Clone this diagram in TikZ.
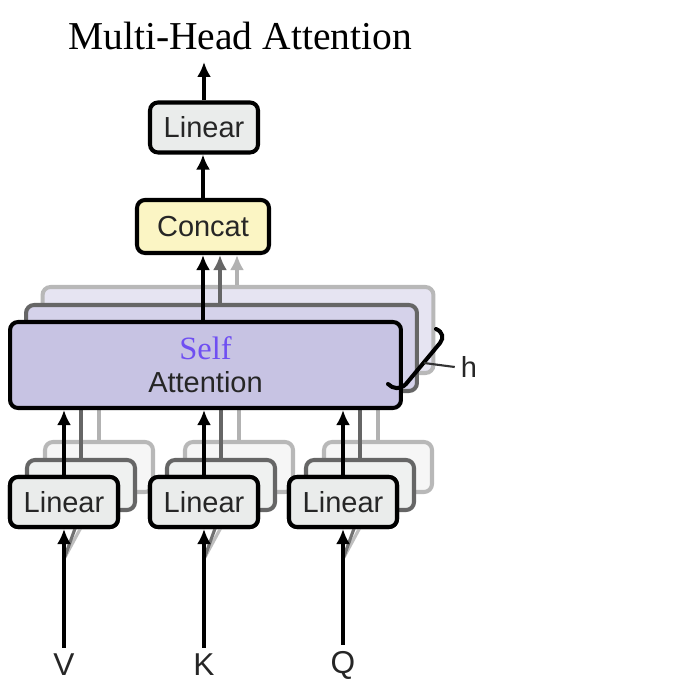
\documentclass[tikz,border=0pt]{standalone}
\usepackage{fontspec}
\setmainfont{Liberation Serif}
\setsansfont{Liberation Sans}
\usetikzlibrary{arrows.meta}
\definecolor{linfill}{HTML}{EAECEB}
\definecolor{catfill}{HTML}{FBF5C4}
\definecolor{attfill}{HTML}{C7C3E3}
\definecolor{selfblue}{HTML}{6F4FF2}
\begin{document}
\begin{tikzpicture}[x=0.02cm,y=-0.02cm,
 box/.style={draw,rounded corners=0.16cm,line width=2.3pt,inner sep=0pt,
   font=\sffamily\fontsize{16.5}{18.8}\selectfont,text=black!85},
 linbox/.style={box,fill=linfill,minimum width=2.16cm,minimum height=1.0cm},
 catbox/.style={box,fill=catfill,minimum width=2.64cm,minimum height=1.06cm},
 attbox/.style={box,fill=attfill,minimum width=7.82cm,minimum height=1.72cm,align=center},
 midlayer/.style={draw=black!60,fill=#1!75!white},
 backlayer/.style={draw=black!28,fill=#1!45!white},
 arr/.style={line width=2.3pt,-{Latex[length=0.3cm,width=0.28cm]}},
 ghostmid/.style={arr,black!60},
 ghostback/.style={arr,black!30},
 lbl/.style={font=\sffamily\fontsize{18}{20}\selectfont,text=black!85}]
 \useasboundingbox (0,0) rectangle (699,695);
 \node[attbox,backlayer=attfill] (att3) at (238,330) {};
 \node[attbox,midlayer=attfill] (att2) at (221.5,348) {};
 \node[linbox,backlayer=linfill] (linV3) at (99,467) {};
 \node[linbox,backlayer=linfill] (linK3) at (239,467) {};
 \node[linbox,backlayer=linfill] (linQ3) at (378,467) {};
 \node[linbox,midlayer=linfill] (linV2) at (81,485) {};
 \node[linbox,midlayer=linfill] (linK2) at (221,485) {};
 \node[linbox,midlayer=linfill] (linQ2) at (360,485) {};
 \draw[ghostback] (linV3.north) -- (linV3.north |- att3.south);
 \draw[ghostback] (linK3.north) -- (linK3.north |- att3.south);
 \draw[ghostback] (linQ3.north) -- (linQ3.north |- att3.south);
 \draw[ghostmid] (linV2.north) -- (linV2.north |- att2.south);
 \draw[ghostmid] (linK2.north) -- (linK2.north |- att2.south);
 \draw[ghostmid] (linQ2.north) -- (linQ2.north |- att2.south);
 \node[lbl] (labV) at (64,665) {V};
 \node[lbl] (labK) at (204,665) {K};
 \node[lbl] (labQ) at (343,665) {Q};
 \node[linbox] (linV) at (64,502) {Linear};
 \node[linbox] (linK) at (204,502) {Linear};
 \node[linbox] (linQ) at (343,502) {Linear};
 \draw[line width=1.8pt,black!25] ([yshift=-0.6cm]linV.south) -- (linV3.south)
   ([yshift=-0.6cm]linK.south) -- (linK3.south) ([yshift=-0.6cm]linQ.south) -- (linQ3.south);
 \draw[line width=1.8pt,black!55] ([yshift=-0.6cm]linV.south) -- (linV2.south)
   ([yshift=-0.6cm]linK.south) -- (linK2.south) ([yshift=-0.6cm]linQ.south) -- (linQ2.south);
 \node[linbox] (linV) at (64,502) {Linear};
 \node[linbox] (linK) at (204,502) {Linear};
 \node[linbox] (linQ) at (343,502) {Linear};
 \node[attbox] (att) at (205.5,365)
   {{\rmfamily\fontsize{18.5}{18.8}\selectfont\color{selfblue}Self}\\Attention};
 \node[catbox] (cat) at (203,226.5) {Concat};
 \node[linbox] (top) at (204,127.5) {Linear};
 \node[font=\fontsize{22.5}{24}\selectfont] (title) at (240,36) {Multi-Head Attention};
 \coordinate (out) at (204,62);
 \draw[arr] (labV) -- (linV);
 \draw[arr] (labK) -- (linK);
 \draw[arr] (labQ) -- (linQ);
 \draw[arr] (linV.north) -- (linV.north |- att.south);
 \draw[arr] (linK.north) -- (linK.north |- att.south);
 \draw[arr] (linQ.north) -- (linQ.north |- att.south);
 \draw[ghostback] ([xshift=0.68cm]cat.south |- att3.north) -- ([xshift=0.68cm]cat.south);
 \draw[ghostmid] ([xshift=0.34cm]cat.south |- att2.north) -- ([xshift=0.34cm]cat.south);
 \draw[arr] (cat.south |- att.north) -- (cat.south);
 \draw[arr] (cat.north) -- (cat.north |- top.south);
 \draw[arr] (top.north) -- (out);
 \coordinate (hb) at (424,363);
 \node[font=\sffamily\fontsize{16.5}{18}\selectfont,text=black!85] (hlab) at (469,367) {h};
 \draw[line width=2.3pt,line cap=round] (436,329) .. controls (443,332) and (444,338) .. (440,343)
   -- (406,384) .. controls (400,390) and (393,389) .. (388,384);
 \draw[line width=1.2pt,black!80] (hb) -- (hlab.west);
\end{tikzpicture}
\end{document}
